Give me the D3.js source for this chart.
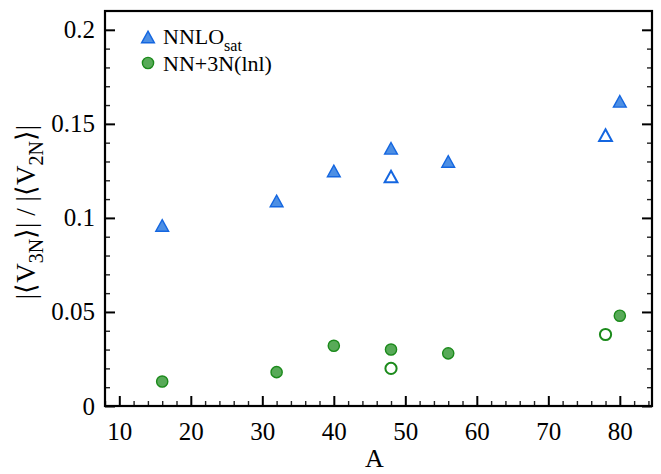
<!DOCTYPE html>
<meta charset="utf-8">
<title>V3N / V2N ratio</title>
<style>
  body { margin: 0; background: #fff; }
  svg text { font-family: "Liberation Serif", "Times New Roman", Times, serif; fill: #000; }
</style>
<body>
<script src="https://d3js.org/d3.v7.min.js"></script>
<script>

// data
var massA      = [16, 32, 40, 48, 56, 80];
var nnloSat    = [0.096, 0.109, 0.125, 0.137, 0.130, 0.162];
var openA      = [48, 78];
var nnloSatOpen = [0.122, 0.144];
var lnl        = [0.013, 0.018, 0.032, 0.030, 0.028, 0.048];
var lnlOpen    = [0.020, 0.038];

var xTicks = [10, 20, 30, 40, 50, 60, 70, 80];
var yTicks = [0, 0.05, 0.1, 0.15, 0.2];
var yTickLabels = ["0", "0.05", "0.1", "0.15", "0.2"];

var width = 661, height = 474;
var pLeft = 105, pRight = 652, pTop = 11, pBottom = 406;
var serif = "Liberation Serif";

var blueFill = "#4d8fe4", blueEdge = "#1466e0";
var greenFill = "#58aa58", greenEdge = "#1b8a1b";

var svg = d3.select("body").append("svg")
    .attr("width", width)
    .attr("height", height)
    .attr("font-family", serif);

var x = d3.scaleLinear().domain([8, 84.5]).range([pLeft, pRight]);
var y = d3.scaleLinear().domain([0, 0.21]).range([pBottom, pTop]);

var xMinor = d3.range(8, 85, 2).filter(function(d) { return d % 10 != 0; });
var yMinor = d3.range(0, 21, 1).filter(function(d) { return d % 5 != 0; })
    .map(function(d) { return d / 100; });

// minor ticks
function minor(g) {
  g.select(".domain").remove();
  g.selectAll(".tick line").attr("stroke", "#222").attr("stroke-width", 1.4);
}
svg.append("g").attr("transform", "translate(0," + pBottom + ")")
  .call(d3.axisBottom(x).tickValues(xMinor).tickSize(-5).tickFormat(""))
  .call(minor);
svg.append("g").attr("transform", "translate(" + pLeft + ",0)")
  .call(d3.axisLeft(y).tickValues(yMinor).tickSize(-5).tickFormat(""))
  .call(minor);
svg.append("g").attr("transform", "translate(" + pRight + ",0)")
  .call(d3.axisRight(y).tickValues(yMinor).tickSize(-5).tickFormat(""))
  .call(minor);

// major ticks + labels
function major(g) {
  g.attr("font-family", serif).attr("font-size", 25);
  g.select(".domain").remove();
  g.selectAll(".tick line").attr("stroke", "#000").attr("stroke-width", 2);
}
svg.append("g").attr("transform", "translate(0," + pBottom + ")")
  .call(d3.axisBottom(x).tickValues(xTicks).tickSize(-10).tickPadding(16))
  .call(major);
svg.append("g").attr("transform", "translate(" + pLeft + ",0)")
  .call(d3.axisLeft(y).tickValues(yTicks).tickSize(-10).tickPadding(10)
    .tickFormat(function(d, i) { return yTickLabels[i]; }))
  .call(major);
svg.append("g").attr("transform", "translate(" + pRight + ",0)")
  .call(d3.axisRight(y).tickValues(yTicks).tickSize(-10).tickFormat(""))
  .call(major);

// frame
svg.append("rect")
  .attr("x", pLeft).attr("y", pTop)
  .attr("width", pRight - pLeft).attr("height", pBottom - pTop)
  .attr("fill", "none").attr("stroke", "#000").attr("stroke-width", 2.2);

var tri = "M0,-5.8L6.4,5.8L-6.4,5.8Z";

function triangles(xs, ys, fill, sw) {
  svg.append("g").selectAll("path")
    .data(ys)
    .join("path")
    .attr("d", tri)
    .attr("transform", function(d, i) { return "translate(" + x(xs[i]) + "," + y(d) + ")"; })
    .attr("fill", fill)
    .attr("stroke", blueEdge)
    .attr("stroke-width", sw);
}
function circles(xs, ys, fill, sw) {
  svg.append("g").selectAll("circle")
    .data(ys)
    .join("circle")
    .attr("cx", function(d, i) { return x(xs[i]); })
    .attr("cy", function(d) { return y(d); })
    .attr("r", 5.6)
    .attr("fill", fill)
    .attr("stroke", greenEdge)
    .attr("stroke-width", sw);
}

triangles(massA, nnloSat, blueFill, 1.4);
triangles(openA, nnloSatOpen, "#fff", 2);
circles(massA, lnl, greenFill, 1.4);
circles(openA, lnlOpen, "#fff", 2);

// legend
svg.append("path").attr("d", tri)
  .attr("transform", "translate(148,37)")
  .attr("fill", blueFill).attr("stroke", blueEdge).attr("stroke-width", 1.4);
svg.append("circle").attr("cx", 148).attr("cy", 63).attr("r", 5.6)
  .attr("fill", greenFill).attr("stroke", greenEdge).attr("stroke-width", 1.4);

var l1 = svg.append("text").attr("x", 163).attr("y", 44).attr("font-size", 22);
l1.append("tspan").text("NNLO");
l1.append("tspan").attr("dy", 7).attr("font-size", 16).text("sat");
svg.append("text").attr("x", 163).attr("y", 71).attr("font-size", 22)
  .text("NN+3N(lnl)");

// axis titles
svg.append("text")
  .attr("x", (pLeft + pRight) / 2 - 4).attr("y", 467)
  .attr("text-anchor", "middle")
  .attr("font-size", 26)
  .text("A");

var yl = svg.append("text")
  .attr("transform", "translate(35,212) rotate(-90)")
  .attr("text-anchor", "middle")
  .attr("font-size", 27);
yl.append("tspan").text("|\u27e8V");
yl.append("tspan").attr("dy", 8).attr("font-size", 20).text("3N");
yl.append("tspan").attr("dy", -8).text("\u27e9| / |\u27e8V");
yl.append("tspan").attr("dy", 8).attr("font-size", 20).text("2N");
yl.append("tspan").attr("dy", -8).text("\u27e9|");

</script>
